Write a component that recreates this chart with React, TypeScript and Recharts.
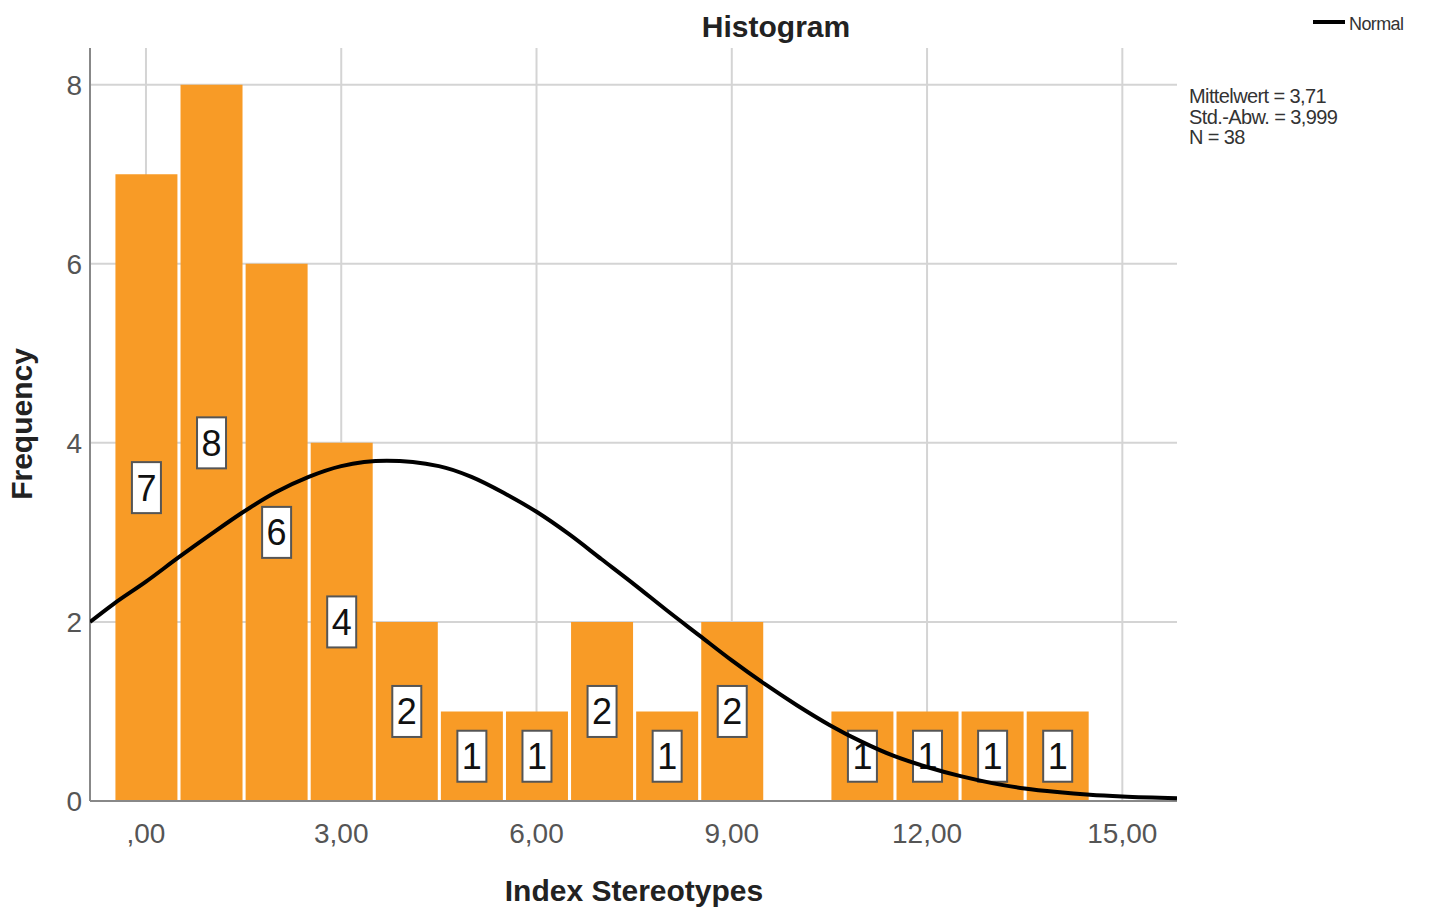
import { ComposedChart, Bar, Line, XAxis, YAxis, CartesianGrid, LabelList } from "recharts";

// histogram bins (bin centres) and counts
const binCenters = [0, 1, 2, 3, 4, 5, 6, 7, 8, 9, 10, 11, 12, 13, 14];
const counts = [7, 8, 6, 4, 2, 1, 1, 2, 1, 2, 0, 1, 1, 1, 1];

// normal curve
const curveX = [-0.86, -0.5, 0, 0.5, 1, 1.5, 2, 2.5, 3, 3.7, 4.5, 5, 5.5, 6, 6.5, 7, 7.5, 8, 8.5, 9, 9.5, 10, 10.5, 11, 11.5, 12, 12.5, 13, 13.5, 14, 14.5, 15, 15.84];
const curveY = [2.0, 2.2, 2.45, 2.72, 2.98, 3.23, 3.45, 3.62, 3.74, 3.8, 3.74, 3.62, 3.44, 3.23, 2.98, 2.7, 2.42, 2.13, 1.85, 1.57, 1.31, 1.07, 0.85, 0.66, 0.5, 0.38, 0.28, 0.2, 0.14, 0.1, 0.07, 0.05, 0.03];

const xTicks = [0, 3, 6, 9, 12, 15];
const xTickLabels = [",00", "3,00", "6,00", "9,00", "12,00", "15,00"];
const yTicks = [0, 2, 4, 6, 8];

const stats = ["Mittelwert = 3,71", "Std.-Abw. = 3,999", "N = 38"];

const barData = binCenters.map((x, i) => ({ x, count: counts[i] }));
const curveData = curveX.map((x, i) => ({ cx: x, y: curveY[i] }));

const X_DOMAIN = [-0.86, 15.84];
const FONT = "'Liberation Sans', Arial, sans-serif";

const CountLabel = (props: any) => {
  const { x, y, width, height, value } = props;
  if (!value) return null;
  const cx = x + width / 2;
  const cy = y + height / 2;
  return (
    <g>
      <rect x={cx - 14.5} y={cy - 25.5} width={29} height={51} fill="#fff" stroke="#555" strokeWidth={2} />
      <text x={cx} y={cy} dy="0.36em" textAnchor="middle" fontSize={36} fontFamily={FONT} fill="#111">
        {value}
      </text>
    </g>
  );
};

export default function App() {
  return (
    <div style={{ position: "absolute", left: 0, top: 0, width: 1430, height: 909, background: "#fff", fontFamily: FONT }}>
      <ComposedChart
        width={1430}
        height={909}
        data={barData}
        margin={{ top: 48, right: 253, left: 0, bottom: 0 }}
      >
        <CartesianGrid
          stroke="#d4d4d4"
          strokeWidth={2}
          horizontalValues={[2, 4, 6, 8]}
          verticalValues={xTicks}
        />
        <XAxis
          dataKey="x"
          type="number"
          domain={X_DOMAIN}
          ticks={xTicks}
          allowDataOverflow
          height={108}
          tickLine={false}
          tickMargin={16}
          axisLine={{ stroke: "#888", strokeWidth: 2 }}
          tick={{ fill: "#555", fontSize: 28, fontFamily: FONT }}
          tickFormatter={(v: number) => xTickLabels[xTicks.indexOf(v)]}
        />
        <XAxis xAxisId="curve" dataKey="cx" type="number" domain={X_DOMAIN} allowDataOverflow hide />
        <YAxis
          type="number"
          domain={[0, 8.41]}
          ticks={yTicks}
          allowDataOverflow
          width={90}
          tickLine={false}
          axisLine={{ stroke: "#888", strokeWidth: 2 }}
          tick={{ fill: "#555", fontSize: 28, fontFamily: FONT }}
        />
        <Bar dataKey="count" fill="#F89B26" barSize={62} isAnimationActive={false}>
          <LabelList dataKey="count" content={CountLabel} />
        </Bar>
        <Line
          xAxisId="curve"
          data={curveData}
          dataKey="y"
          type="monotone"
          stroke="#000"
          strokeWidth={4}
          dot={false}
          activeDot={false}
          isAnimationActive={false}
          {...({ zIndex: 2100 } as any)}
        />
      </ComposedChart>

      <div style={{ position: "absolute", left: 0, width: 1552, top: 10, textAlign: "center", fontSize: 30, fontWeight: "bold", color: "#222" }}>
        Histogram
      </div>
      <div style={{ position: "absolute", left: 0, width: 1268, top: 874, textAlign: "center", fontSize: 30, fontWeight: "bold", color: "#222" }}>
        Index Stereotypes
      </div>
      <div
        style={{
          position: "absolute",
          left: 22,
          top: 424,
          transform: "translate(-50%, -50%) rotate(-90deg)",
          fontSize: 30,
          fontWeight: "bold",
          color: "#222",
          whiteSpace: "nowrap",
        }}
      >
        Frequency
      </div>

      <div style={{ position: "absolute", left: 1313, top: 20, width: 32, height: 4, background: "#000" }} />
      <div style={{ position: "absolute", left: 1349, top: 14, fontSize: 18, letterSpacing: -0.6, color: "#333" }}>Normal</div>

      <div style={{ position: "absolute", left: 1189, top: 86, fontSize: 20, lineHeight: "20.5px", letterSpacing: -0.6, color: "#333" }}>
        {stats.map((s) => (
          <div key={s}>{s}</div>
        ))}
      </div>
    </div>
  );
}
